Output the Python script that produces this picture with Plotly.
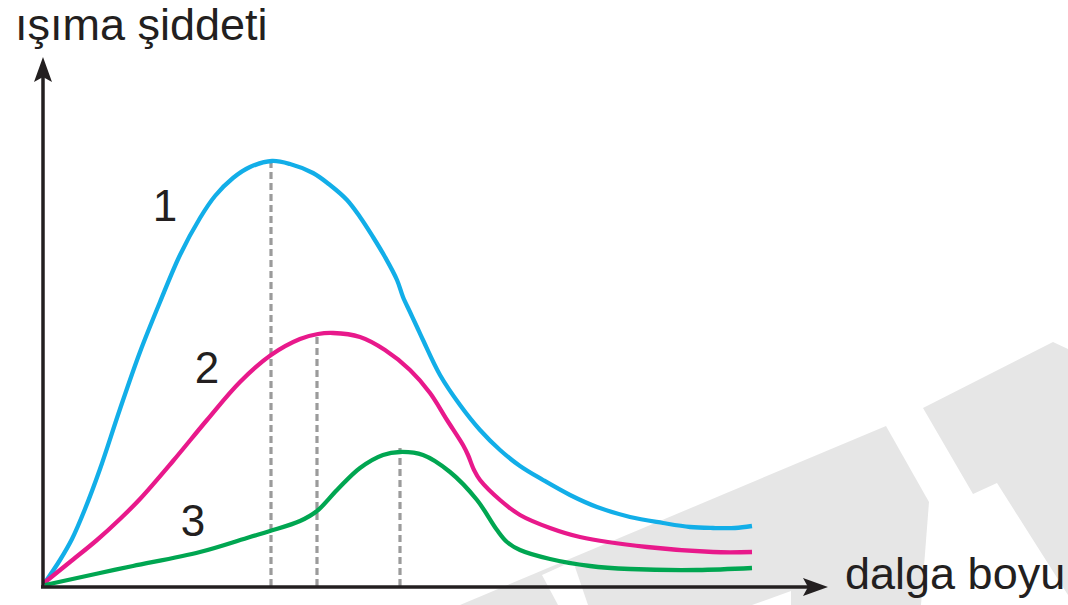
import plotly.graph_objects as go

W, H = 1068, 605

# ---- data (arbitrary units: wavelength, radiation intensity) ----
c1_x = [1, 17, 29, 42, 57, 77, 97, 117, 137, 157, 172, 190, 207, 229, 247, 270, 287, 304, 317, 330,
        342, 354, 360, 367, 374, 380, 397, 417, 437, 457, 477, 500, 527, 554, 587, 620, 647, 670, 692, 709]
c1_y = [2, 26, 47, 77, 117, 177, 234, 284, 331, 368, 390, 408, 419, 425, 422, 413, 401, 386, 369, 349,
        329, 306, 289, 274, 259, 246, 211, 181, 156, 136, 120, 106, 91, 79, 69, 63, 59, 58, 58, 60]

c2_x = [1, 27, 54, 77, 97, 130, 164, 197, 228, 257, 275, 290, 317, 342, 367, 387, 404, 420, 425, 431,
        437, 457, 477, 507, 537, 604, 670, 709]
c2_y = [3, 24, 46, 67, 87, 125, 166, 204, 231, 247, 252, 253, 249, 236, 216, 193, 166, 141, 131, 116,
        106, 86, 71, 58, 49, 39, 34, 34]

c3_x = [2, 57, 90, 157, 207, 227, 257, 274, 294, 317, 340, 357, 380, 407, 434, 454, 464, 477, 507, 547,
        587, 654, 709]
c3_y = [1, 13, 20, 34, 49, 55, 65, 75, 96, 118, 131, 134, 131, 114, 86, 56, 44, 36, 27, 20,
        17, 16, 18]

peak_x = [228, 274, 357]
peak_y = [426, 253, 138]

labels = ["1", "2", "3"]
label_x = [122, 164, 150]
label_y = [376, 214, 61]

y_title = "ışıma şiddeti"
x_title = "dalga boyu"

# ---- styles ----
COLORS = ["#12aee8", "#e8198b", "#00a651"]
INK = "#231f20"
GRID_GRAY = "#9b9b9b"
WM = "#e6e6e6"
FONT = "Liberation Sans, Arial, Helvetica, sans-serif"

# pixel mapping of the plot area: data (0,0) sits at pixel (43, 586)
X0, Y0 = 43, 586


def px(x):
    return x / W


def py(y):
    return 1 - y / H


def poly(points):
    s = "M " + " L ".join(f"{px(a):.5f},{py(b):.5f}" for a, b in points) + " Z"
    return s


fig = go.Figure()

# dashed guides at peaks
for xv, yv in zip(peak_x, peak_y):
    fig.add_trace(go.Scatter(x=[xv, xv], y=[0, yv], mode="lines",
                             line=dict(color=GRID_GRAY, width=3.2, dash="7px,4px"),
                             hoverinfo="skip", showlegend=False))

for xs, ys, col in zip([c1_x, c2_x, c3_x], [c1_y, c2_y, c3_y], COLORS):
    fig.add_trace(go.Scatter(x=xs, y=ys, mode="lines",
                             line=dict(color=col, width=4.3, shape="spline", smoothing=1.0),
                             hoverinfo="skip", showlegend=False))

fig.add_trace(go.Scatter(x=label_x, y=label_y, mode="text", text=labels,
                         textfont=dict(family=FONT, size=44, color=INK),
                         hoverinfo="skip", showlegend=False))

shapes = []
# watermark
shapes.append(dict(type="path", xref="paper", yref="paper", layer="below",
                   path=poly([(460, 605), (886, 426), (929, 502), (921, 605)]),
                   fillcolor=WM, line=dict(width=0)))
shapes.append(dict(type="path", xref="paper", yref="paper", layer="below",
                   path=poly([(542, 575), (573, 561), (588, 605), (558, 605)]),
                   fillcolor="white", line=dict(width=0)))
shapes.append(dict(type="path", xref="paper", yref="paper", layer="below",
                   path=poly([(752, 605), (791, 591), (791, 605)]),
                   fillcolor="white", line=dict(width=0)))
shapes.append(dict(type="path", xref="paper", yref="paper", layer="below",
                   path=poly([(923, 408), (1053, 342), (1068, 349), (1068, 595), (997, 483), (973, 494)]),
                   fillcolor=WM, line=dict(width=0)))

# axes lines
shapes.append(dict(type="line", xref="paper", yref="paper", x0=px(43), y0=py(588), x1=px(43), y1=py(75),
                   line=dict(color=INK, width=3.5)))
shapes.append(dict(type="line", xref="paper", yref="paper", x0=px(41), y0=py(587), x1=px(812), y1=py(587),
                   line=dict(color=INK, width=3.5)))
# arrow heads
shapes.append(dict(type="path", xref="paper", yref="paper",
                   path=poly([(43, 57), (52, 82), (43, 77), (34, 82)]),
                   fillcolor=INK, line=dict(width=0)))
shapes.append(dict(type="path", xref="paper", yref="paper",
                   path=poly([(828, 587), (803, 596), (808, 587), (803, 578)]),
                   fillcolor=INK, line=dict(width=0)))

annotations = [
    dict(text=y_title, xref="paper", yref="paper", x=px(13), y=py(24), xanchor="left", yanchor="middle",
         showarrow=False, font=dict(family=FONT, size=45, color=INK)),
    dict(text=x_title, xref="paper", yref="paper", x=px(1067), y=py(573), xanchor="right", yanchor="middle",
         showarrow=False, font=dict(family=FONT, size=45, color=INK)),
]

fig.update_layout(
    width=W, height=H,
    margin=dict(l=0, r=0, t=0, b=0),
    paper_bgcolor="white", plot_bgcolor="rgba(0,0,0,0)",
    xaxis=dict(range=[-X0, W - X0], visible=False, fixedrange=True),
    yaxis=dict(range=[Y0 - H, Y0], visible=False, fixedrange=True),
    shapes=shapes, annotations=annotations,
    showlegend=False,
)

fig.write_html("out.html", config={"displayModeBar": False},
               post_script="document.body.style.margin='0';")
